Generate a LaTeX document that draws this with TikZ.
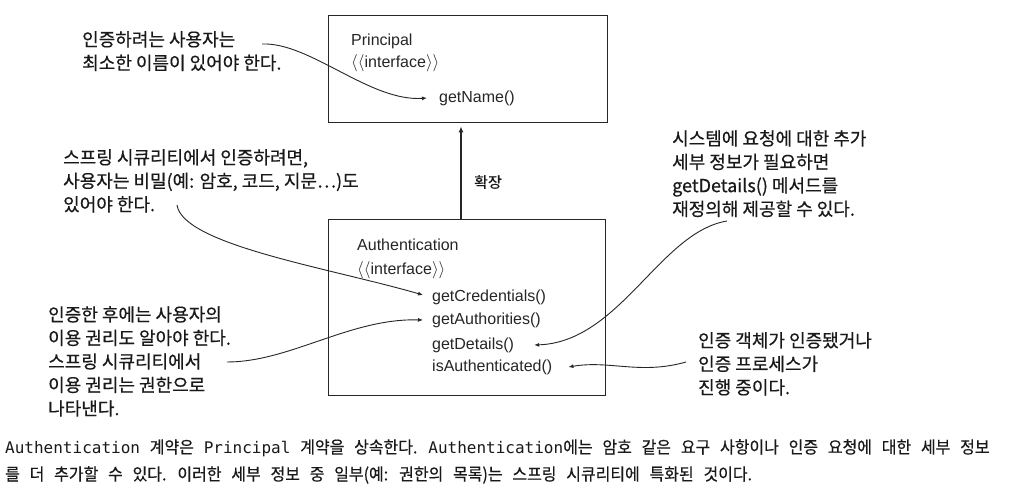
\documentclass[tikz,border=0pt]{standalone}
\usepackage{fontspec}
\setmainfont{Liberation Sans}
\newfontfamily\kr[FakeBold=0.5]{Noto Sans CJK KR}
\newfontfamily\krcap[FakeStretch=0.94,FakeBold=0.4]{Noto Sans CJK KR}
\newfontfamily\monofnt{DejaVu Sans Mono}
\newcommand\mcode[1]{{\monofnt\fontsize{16}{27}\selectfont #1}}
\usetikzlibrary{arrows.meta}
\begin{document}
\begin{tikzpicture}[x=1pt,y=-1pt,
  box/.style={draw=black!85, line width=1.4pt, inner sep=0pt, anchor=north west},
  lbl/.style={inner sep=0pt, font=\fontsize{16}{23}\selectfont, text=black!85, anchor=west},
  ttl/.style={inner sep=0pt, align=left, anchor=north west, text=black!85},
  note/.style={inner sep=0pt, align=left, anchor=north west, font=\kr\fontsize{18}{23.5}\selectfont, text=black!90},
  conn/.style={line width=0.9pt, draw=black!85, -{Latex[length=5pt,width=4pt]}},
]
\useasboundingbox (0,0) rectangle (1026,491);
\fill[white] (0,0) rectangle (1026,491);

% boxes
\node[box, minimum width=279pt, minimum height=107pt] (princ) at (328,15) {};
\node[box, minimum width=277pt, minimum height=176pt] (auth) at (328,219) {};

% box contents
\node[ttl, font=\fontsize{16}{22}\selectfont] (ptitle) at (351,34) {Principal\\$\langle\langle$interface$\rangle\rangle$};
\node[lbl] (getName) at (439,98) {getName()};
\node[ttl, font=\fontsize{16}{24}\selectfont] (atitle) at (357,239) {Authentication\\$\langle\langle$interface$\rangle\rangle$};
\node[lbl] (getCred) at (432,297) {getCredentials()};
\node[lbl] (getAuth) at (432,320) {getAuthorities()};
\node[lbl] (getDet) at (432,345) {getDetails()};
\node[lbl] (isAuth) at (432,367) {isAuthenticated()};

% extends arrow
\coordinate (ax) at (461,0);
\draw[line width=1.2pt, draw=black!85, -{Latex[length=6pt,width=5pt]}] (auth.north -| ax) -- ([yshift=-3pt]princ.south -| ax);
\node[inner sep=0pt, anchor=west, font=\kr\fontsize{15}{18}\selectfont, text=black!90] (ext) at (474,182) {확장};

% notes
\node[note] (n1) at (82,31) {인증하려는 사용자는\\최소한 이름이 있어야 한다.};
\node[note] (n2) at (63,149) {스프링 시큐리티에서 인증하려면,\\사용자는 비밀(예: 암호, 코드, 지문⋯)도\\있어야 한다.};
\node[note] (n3) at (48,306) {인증한 후에는 사용자의\\이용 권리도 알아야 한다.\\스프링 시큐리티에서\\이용 권리는 권한으로\\나타낸다.};
\node[note] (n4) at (672,130) {시스템에 요청에 대한 추가\\세부 정보가 필요하면\\getDetails() 메서드를\\재정의해 제공할 수 있다.};
\node[note] (n5) at (698,332) {인증 객체가 인증됐거나\\인증 프로세스가\\진행 중이다.};

% connectors
\coordinate (s1) at (262,44);
\coordinate (s2) at (177,205);
\coordinate (s3) at (227,362);
\coordinate (s4) at (727,221);
\coordinate (s5) at (686,362);
\draw[conn] (s1) .. controls (310,42) and (370,102) .. ([xshift=-12pt]getName.west);
\draw[conn] (s2) .. controls (183,245) and (330,268) .. ([xshift=-9pt,yshift=2pt]getCred.west);
\draw[conn] (s3) .. controls (290,362) and (350,318) .. ([xshift=-9pt]getAuth.west);
\draw[conn] (s4) .. controls (660,232) and (620,342) .. ([xshift=20pt]getDet.east);
\draw[conn] (s5) .. controls (640,375) and (610,360) .. ([xshift=16pt]isAuth.east);

% caption
\node[anchor=north west, inner sep=0pt, align=left, font={\krcap\fontsize{17}{27}\selectfont\spaceskip=9.8pt}, text=black!90] (cap) at (5,439)
 {\mcode{Authentication} 계약은 \mcode{Principal} 계약을 상속한다. \mcode{Authentication}에는 암호 같은 요구 사항이나 인증 요청에 대한 세부 정보\\를 더 추가할 수 있다. 이러한 세부 정보 중 일부(예: 권한의 목록)는 스프링 시큐리티에 특화된 것이다.};
\end{tikzpicture}
\end{document}
